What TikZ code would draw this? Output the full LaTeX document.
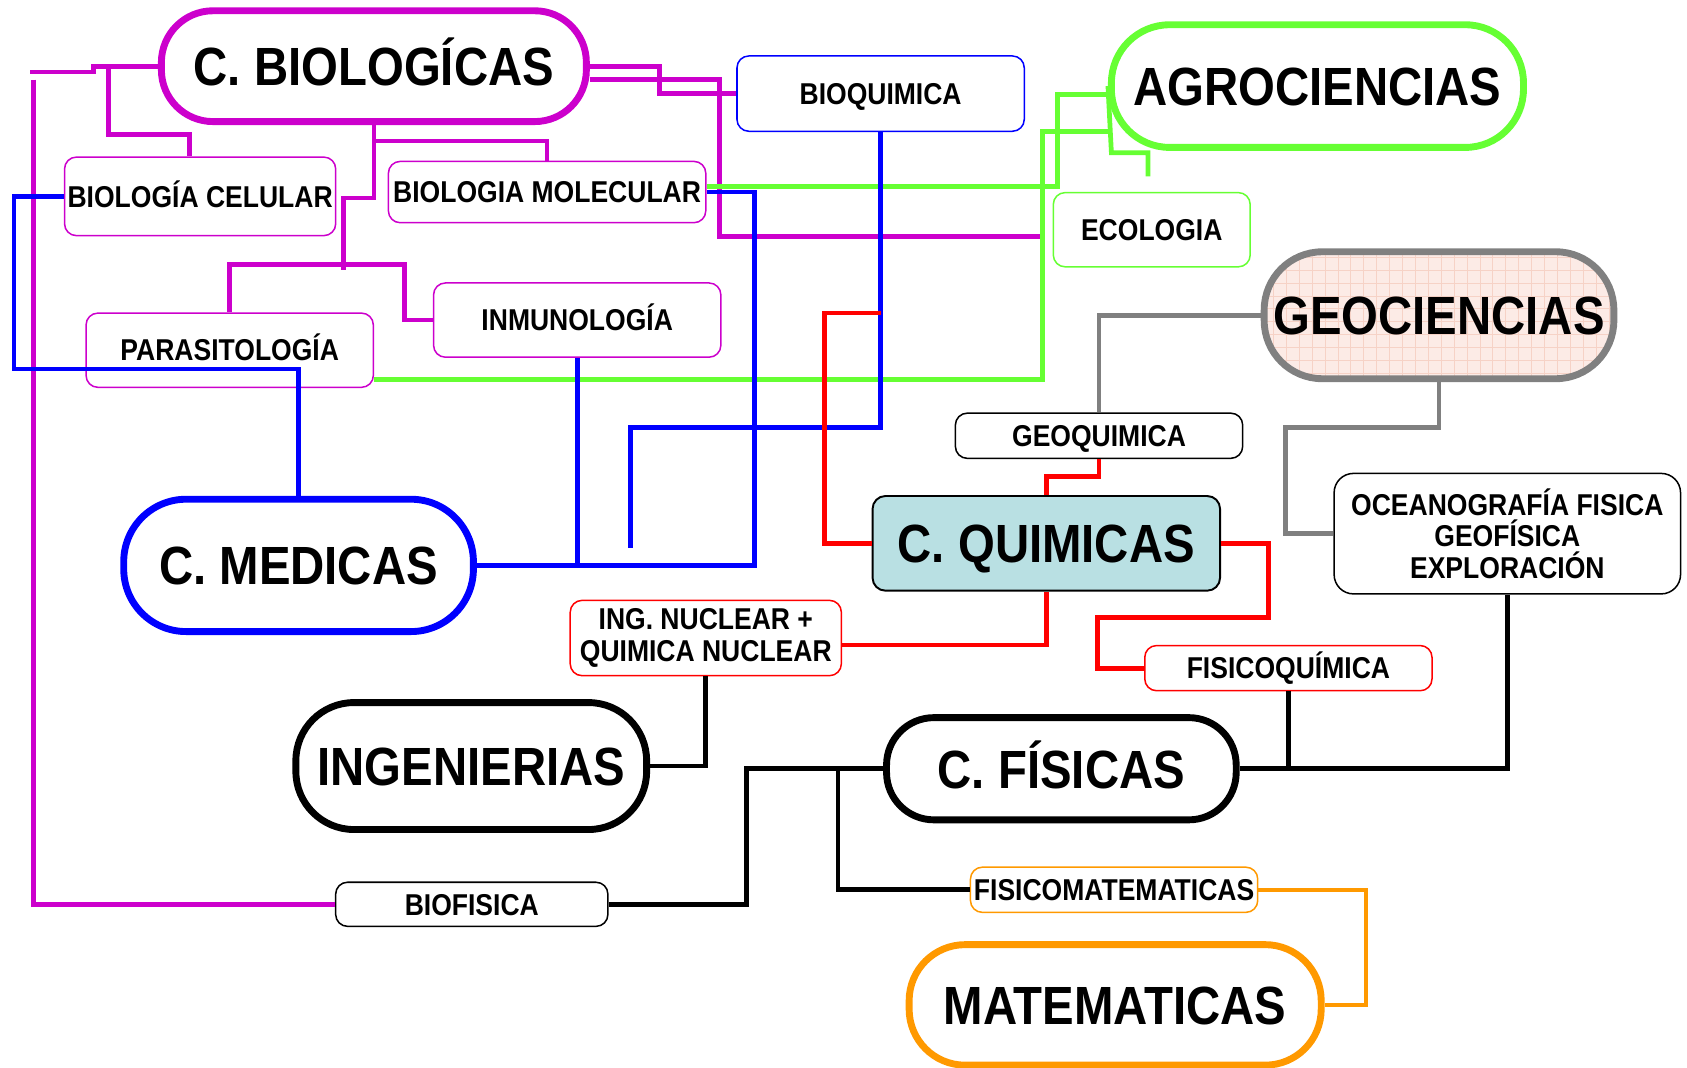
\documentclass[tikz,border=0pt]{standalone}
\usepackage{fontspec}
\setmainfont{Liberation Sans}[FakeStretch=0.88]
\definecolor{mg}{HTML}{CC00CC}
\definecolor{bl}{HTML}{0000FF}
\definecolor{gn}{HTML}{66FF33}
\definecolor{rd}{HTML}{FF0000}
\definecolor{gy}{HTML}{808080}
\definecolor{og}{HTML}{FF9900}
\definecolor{qfill}{HTML}{B9E0E3}
\definecolor{gfill}{HTML}{FCEBE6}
\definecolor{ggrid}{HTML}{F6D2C6}
\begin{document}
\begin{tikzpicture}[x=0.5pt,y=-0.5pt,
  bigtxt/.style={font=\fontsize{25}{28}\selectfont\bfseries, text height=18pt, text depth=0pt},
  smalltxt/.style={font=\fontsize{14}{14.8}\selectfont\bfseries},
  oneline/.style={text height=10pt, text depth=0pt},
  pill/.style={rectangle, line width=3.2pt, fill=white, inner sep=0pt, bigtxt},
  tbox/.style={rectangle, rounded corners=5.5pt, line width=0.7pt, fill=white, inner sep=0pt, smalltxt, align=center},
  con/.style={line width=2.2pt}]
\useasboundingbox (0,0) rectangle (1568,992);

% ---- nodes ----
\node[pill, draw=mg, minimum width=197.5pt, minimum height=51.5pt, rounded corners=24pt] (bio) at (347.5,61.5) {C. BIOLOGÍCAS};
\node[tbox, oneline, draw=bl, minimum width=133.5pt, minimum height=35pt] (bioq) at (818.5,87) {BIOQUIMICA};
\node[pill, draw=gn, minimum width=191.5pt, minimum height=57pt, rounded corners=27pt] (agro) at (1224.5,80) {AGROCIENCIAS};
\node[tbox, oneline, draw=mg, minimum width=126pt, minimum height=36.5pt] (cel) at (186,182.5) {BIOLOGÍA CELULAR};
\node[tbox, oneline, draw=mg, minimum width=147.5pt, minimum height=28.5pt] (mol) at (508.5,178.5) {BIOLOGIA MOLECULAR};
\node[tbox, oneline, draw=gn, minimum width=91.5pt, minimum height=34.5pt] (eco) at (1070.5,213.5) {ECOLOGIA};
\node[pill, draw=gy, fill=gfill, minimum width=162.5pt, minimum height=59pt, rounded corners=27pt,
  path picture={\draw[ggrid, line width=0.3pt] (path picture bounding box.south west) grid[step=6pt] (path picture bounding box.north east);}] (geo) at (1337.5,293) {GEOCIENCIAS};
\node[tbox, oneline, draw=mg, minimum width=133.5pt, minimum height=34.5pt] (inm) at (536.5,297.5) {INMUNOLOGÍA};
\node[tbox, oneline, draw=mg, minimum width=133.5pt, minimum height=34.5pt] (par) at (213.5,325.5) {PARASITOLOGÍA};
\node[tbox, oneline, draw=black, minimum width=133.5pt, minimum height=21pt] (geoq) at (1021.5,405) {GEOQUIMICA};
\node[tbox, draw=black, rounded corners=9pt, minimum width=161pt, minimum height=56pt] (ocean) at (1401,496) {OCEANOGRAFÍA FISICA\\GEOFÍSICA\\EXPLORACIÓN};
\node[rectangle, rounded corners=6pt, draw=black, line width=0.9pt, fill=qfill, inner sep=0pt, bigtxt, minimum width=161.5pt, minimum height=44pt] (quim) at (972.5,505) {C. QUIMICAS};
\node[pill, draw=bl, minimum width=162.5pt, minimum height=61.5pt, rounded corners=29pt] (med) at (277.5,525.5) {C. MEDICAS};
\node[tbox, draw=rd, minimum width=126pt, minimum height=35pt] (nuc) at (656,593) {ING. NUCLEAR +\\QUIMICA NUCLEAR};
\node[tbox, oneline, draw=rd, minimum width=133.5pt, minimum height=21pt] (fq) at (1197.5,621) {FISICOQUÍMICA};
\node[pill, draw=black, minimum width=163pt, minimum height=59pt, rounded corners=27pt] (ing) at (438,712) {INGENIERIAS};
\node[pill, draw=black, minimum width=162.5pt, minimum height=47.5pt, rounded corners=22pt] (fis) at (986.5,714.5) {C. FÍSICAS};
\node[tbox, oneline, draw=black, minimum width=126.5pt, minimum height=20.5pt] (biof) at (438.5,840.5) {BIOFISICA};
\node[tbox, oneline, draw=og, minimum width=133.5pt, minimum height=21pt] (fm) at (1035.5,827) {FISICOMATEMATICAS};
\node[pill, draw=og, minimum width=191.5pt, minimum height=56pt, rounded corners=26pt] (mat) at (1036.5,934) {MATEMATICAS};

% ---- free ends ----
\coordinate (mgA) at (31,74);
\coordinate (blueEnd) at (586,509);
\coordinate (greenEnd) at (1067,164);

% ---- magenta ----
\draw[con,mg] (bio.west) -- (87,61.5) -- (87,67) -- (28,67);
\draw[con,mg] (mgA) -- (31,840.5) -- (biof.west);
\draw[con,mg] (101,61.5) -- (101,125) -- (176,125) -- (cel.north -| 176,0);
\draw[con,mg] (bio.south) -- (347.5,131) -| (mol.north);
\draw[con,mg] (347.5,131) -- (347.5,184) -- (319,184) -- (319,251);
\draw[con,mg] (par.north) |- (376,246) |- (inm.west);
\draw[con,mg] (bio.east) -- (613,61.5) |- (bioq.west);
\draw[con,mg] (bio.east |- 0,74) -- (669,74) -- (669,220) -- (969,220);

% ---- green ----
\draw[con,gn] (mol.east |- 0,173) -| (983,88) -- (1033,88);
\draw[con,gn] (par.east |- 0,353) -| (969,122) -- (1033,122);
\draw[con,gn] (agro.west) -- (1033,142) -| (greenEnd);

% ---- blue ----
\draw[con,bl] (cel.west) -- (13,182.5) |- (277.5,343) -- (med.north);
\draw[con,bl] (mol.east) -| (701,525.5) -- (med.east);
\draw[con,bl] (inm.south) -- (inm.south |- med.east);
\draw[con,bl] (bioq.south) |- (586,397) -- (blueEnd);

% ---- red ----
\draw[con,rd] (818.5,291) -| (766,505) -- (quim.west);
\draw[con,rd] (geoq.south) |- (972.5,443) -- (quim.north);
\draw[con,rd] (quim.south) |- (nuc.east |- 0,599.5);
\draw[con,rd] (quim.east) -| (1179,574) -| (1020,621) -- (fq.west);

% ---- gray ----
\draw[con,gy] (geo.west) -| (geoq.north);
\draw[con,gy] (geo.south) |- (1195,397) |- (ocean.west);

% ---- black ----
\draw[con] (nuc.south) |- (ing.east);
\draw[con] (fis.west) -- (694,714.5) |- (biof.east);
\draw[con] (779,714.5) |- (fm.west);
\draw[con] (fis.east) -| (ocean.south);
\draw[con] (fq.south) -- (fq.south |- fis.east);

% ---- orange ----
\draw[con,og,line width=1.9pt] (fm.east) -| (1270,934) -- (mat.east);
\end{tikzpicture}
\end{document}
